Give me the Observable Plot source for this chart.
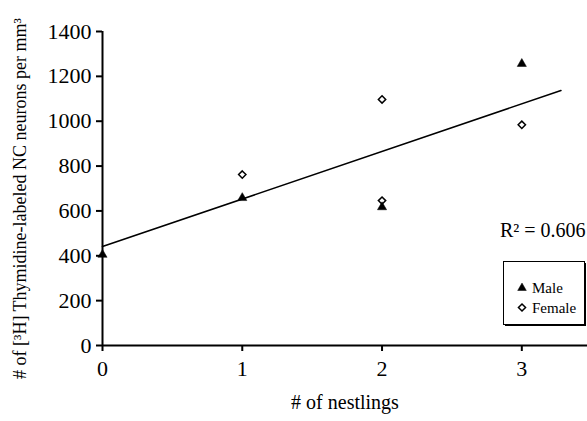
<!DOCTYPE html>
<html>
<head>
<meta charset="utf-8">
<script src="https://cdn.jsdelivr.net/npm/d3@7"></script>
<script src="https://cdn.jsdelivr.net/npm/@observablehq/plot@0.6"></script>
<style>
  html, body { margin: 0; padding: 0; background: #fff; }
  #chart { width: 587px; height: 421px; }
</style>
</head>
<body>
<div id="chart"></div>
<script>
// ---- data ----
const maleNestlings = [0, 1, 2, 3];
const maleValues = [405, 658, 617, 1256];
const femaleNestlings = [1, 2, 2, 3];
const femaleValues = [762, 1097, 646, 984];
const trendX = [0, 3.28];
const trendY = [441, 1137];
const xTicks = [0, 1, 2, 3];
const yTicks = [0, 200, 400, 600, 800, 1000, 1200, 1400];
const xTitle = "# of nestlings";
const yTitle = "# of [³H] Thymidine-labeled NC neurons per mm³";
const r2Label = "R² = 0.606";
const legendLabels = ["Male", "Female"];

const male = maleNestlings.map((x, i) => ({x, y: maleValues[i]}));
const female = femaleNestlings.map((x, i) => ({x, y: femaleValues[i]}));
const trend = trendX.map((x, i) => ({x, y: trendY[i]}));

const serif = "'Liberation Serif', 'Times New Roman', serif";

const plot = Plot.plot({
  width: 587,
  height: 421,
  marginLeft: 102,
  marginTop: 31,
  marginBottom: 76,
  marginRight: 0,
  style: {fontFamily: serif, background: "#fff", color: "#000", overflow: "visible"},
  x: {domain: [0, 3.47]},
  y: {domain: [0, 1400]},
  marks: [
    Plot.axisX({ticks: xTicks, tickSize: 6, tickPadding: 9, tickFormat: d => String(d), fontSize: 22, label: null, strokeWidth: 2}),
    Plot.axisY({ticks: yTicks, tickSize: 6, tickPadding: 5, tickFormat: d => String(d), fontSize: 22, label: null, strokeWidth: 2}),
    Plot.ruleY([0], {stroke: "#000", strokeWidth: 2}),
    Plot.ruleX([0], {y1: 0, y2: 1400, stroke: "#000", strokeWidth: 2}),
    Plot.line(trend, {x: "x", y: "y", stroke: "#000", strokeWidth: 1.6}),
    Plot.dot(female, {x: "x", y: "y", symbol: "diamond2", r: 3.3, stroke: "#000", strokeWidth: 1.5, fill: "#fff"}),
    Plot.dot(male, {x: "x", y: "y", symbol: "triangle", r: 3.4, fill: "#000", stroke: "#000", strokeWidth: 0.5}),
    Plot.text([xTitle], {frameAnchor: "bottom", textAnchor: "middle", dy: 63, fontSize: 20, fill: "#000"}),
    Plot.text([yTitle], {frameAnchor: "left", textAnchor: "middle", rotate: -90, dx: -82, dy: 10, fontSize: 18, fill: "#000"}),
    Plot.text([r2Label], {frameAnchor: "top-right", textAnchor: "end", dx: -2, dy: 191, fontSize: 20, fill: "#000"})
  ]
});

// legend box
const svg = d3.select(plot);
const lg = svg.append("g").attr("font-family", serif).attr("font-size", 15).attr("text-anchor", "start");
lg.append("rect").attr("x", 505).attr("y", 263).attr("width", 81).attr("height", 63).attr("fill", "#000");
lg.append("rect").attr("x", 503.5).attr("y", 261.5).attr("width", 81).attr("height", 63)
  .attr("fill", "#fff").attr("stroke", "#000").attr("stroke-width", 1);
const sym = [d3.symbolTriangle, d3.symbolDiamond2];
legendLabels.forEach((lab, i) => {
  const cy = 288 + i * 19.5;
  lg.append("path").attr("d", d3.symbol(sym[i], Math.PI * 3.2 * 3.2)())
    .attr("transform", `translate(522,${cy})`)
    .attr("fill", i === 0 ? "#000" : "#fff").attr("stroke", "#000").attr("stroke-width", i === 0 ? 0.5 : 1.5);
  lg.append("text").attr("x", 532).attr("y", cy).attr("dy", "0.35em").attr("fill", "#000").text(lab);
});

document.getElementById("chart").appendChild(plot);
</script>
</body>
</html>
